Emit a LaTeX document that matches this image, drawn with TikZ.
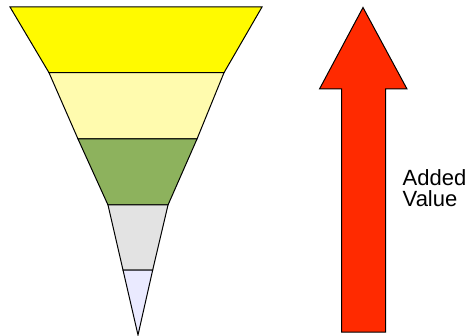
\documentclass[tikz,border=0pt]{standalone}
\usepackage{fontspec}
\setmainfont{Liberation Sans}
\usepackage{xcolor}
\usepackage{tikz}
\usetikzlibrary{positioning}
\definecolor{layerA}{HTML}{FFFA00}
\definecolor{layerB}{HTML}{FFFBAE}
\definecolor{layerC}{HTML}{8DB25D}
\definecolor{layerD}{HTML}{E3E3E3}
\definecolor{layerE}{HTML}{EAEAFF}
\definecolor{arrowred}{HTML}{FF2A00}

\begin{document}
\begin{tikzpicture}[x=1pt, y=-1pt, line join=miter,
    layer/.style={draw=black, line width=1pt},
    valuetext/.style={font=\fontsize{22}{21}\selectfont, align=left, inner sep=0pt}]
  \useasboundingbox (0,0) rectangle (470,336);
  % funnel, widest layer on top
  \filldraw[layer, fill=layerA] (10,7) -- (262,7) -- (224,72.7) -- (49,72.7) -- cycle;
  \filldraw[layer, fill=layerB] (49,72.7) -- (224,72.7) -- (197,139) -- (78,139) -- cycle;
  \filldraw[layer, fill=layerC] (78,139) -- (197,139) -- (168,205) -- (108,205) -- cycle;
  \filldraw[layer, fill=layerD] (108,205) -- (168,205) -- (152.7,270) -- (123,270) -- cycle;
  \filldraw[layer, fill=layerE] (123,270) -- (152.7,270) -- (138,335) -- cycle;
  % big arrow pointing up
  \filldraw[layer, fill=arrowred] (363,7.5) -- (407,89) -- (385.5,89) -- (385.5,332)
    -- (341.5,332) -- (341.5,89) -- (319.5,89) -- cycle;
  \node[valuetext, anchor=north west] (value) at (402.5,169) {Added\\Value};
\end{tikzpicture}
\end{document}
